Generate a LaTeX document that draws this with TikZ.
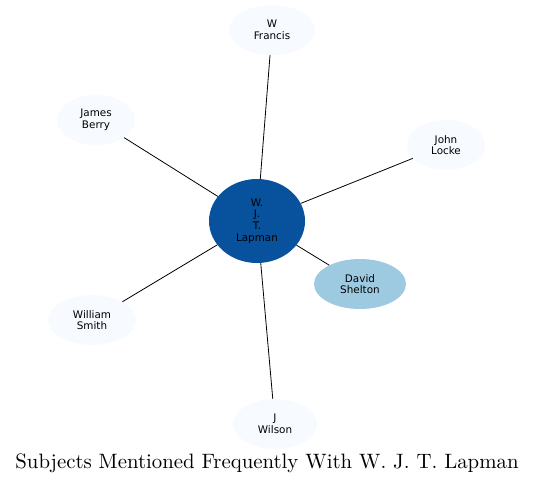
\documentclass[tikz,border=0pt]{standalone}
\usepackage{fontspec}
\newfontfamily\nodefont{DejaVu Sans}
\newfontfamily\titlefont{lmroman10-regular}[Extension=.otf]
\usetikzlibrary{shapes.geometric}
\definecolor{lightfill}{HTML}{F7FBFF}
\definecolor{darkfill}{HTML}{08519C}
\definecolor{midfill}{HTML}{9ECAE1}
\tikzset{
  ent/.style={ellipse, fill=lightfill, inner sep=0pt, minimum height=50pt, align=center, font=\nodefont\fontsize{10.4}{11.7}\selectfont},
  edge/.style={draw=black, line width=0.8pt}
}
\begin{document}
\begin{tikzpicture}[x=1pt,y=-1pt]
\useasboundingbox (0,0) rectangle (535,485);
\node[ent, minimum width=86pt] (wf) at (272,30) {W\\Francis};
\node[ent, minimum width=78pt] (jb) at (96,120) {James\\Berry};
\node[ent, minimum width=78pt] (jl) at (446,145) {John\\Locke};
\node[ent, fill=darkfill, minimum width=96pt, minimum height=84pt] (c) at (257,221) {W.\\J.\\T.\\Lapman};
\node[ent, fill=midfill, minimum width=92pt] (ds) at (360,284) {David\\Shelton};
\node[ent, minimum width=88pt] (ws) at (92,320) {William\\Smith};
\node[ent, minimum width=84pt] (jw) at (275,424) {J\\Wilson};
\draw[edge] (c) -- (wf);
\draw[edge] (c) -- (jb);
\draw[edge] (c) -- (jl);
\draw[edge] (c) -- (ds);
\draw[edge] (c) -- (ws);
\draw[edge] (c) -- (jw);
\node[font=\titlefont\fontsize{20.8}{24}\selectfont] (title) at (267,463) {Subjects Mentioned Frequently With W. J. T. Lapman};
\end{tikzpicture}
\end{document}
